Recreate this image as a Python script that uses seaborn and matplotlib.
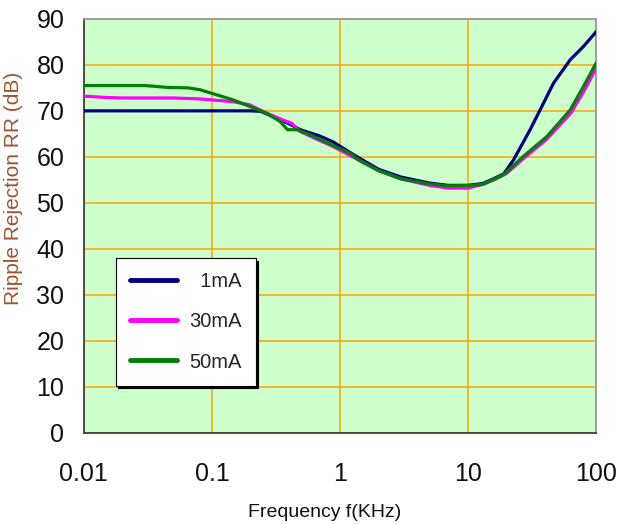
import matplotlib
matplotlib.use("Agg")
import matplotlib.pyplot as plt
import seaborn as sns
import pandas as pd

# data
freq_1ma = [0.01, 0.02, 0.05, 0.1, 0.2, 0.24, 0.32, 0.4, 0.49, 0.7, 0.89, 1.0, 1.4, 2, 3, 5, 7,
            10, 13, 16, 19, 22.6, 30.5, 36.5, 46.4, 62.7, 79.6, 100]
rr_1ma = [70, 70, 70, 70, 70, 69.9, 68.4, 67.2, 65.9, 64.5, 63.2, 62.3, 59.8, 57.3, 55.6, 54.3, 53.8,
          53.8, 54.2, 55.3, 56.3, 59.3, 65.9, 70.2, 76.0, 81.1, 84.0, 87.2]

freq_30ma = [0.01, 0.015, 0.02, 0.05, 0.08, 0.146, 0.198, 0.267, 0.36, 0.42, 0.49, 0.7, 0.89, 1.4,
             2, 3, 5, 7, 10, 13, 16, 20, 27, 41, 63, 80, 100]
rr_30ma = [73.2, 72.9, 72.8, 72.8, 72.6, 72.0, 71.3, 69.5, 68.0, 67.3, 65.5, 63.5, 62.2, 59.3,
           57.0, 55.2, 53.8, 53.2, 53.2, 54.0, 55.0, 56.4, 59.6, 63.8, 69.4, 74.2, 79.3]

freq_50ma = [0.01, 0.02, 0.03, 0.045, 0.065, 0.0805, 0.146, 0.267, 0.34, 0.39, 0.46, 0.58, 0.8,
             1.2, 1.4, 2, 3, 5, 7, 10.4, 13, 18.9, 27, 41.2, 62.7, 79.6, 100]
rr_50ma = [75.5, 75.5, 75.5, 75.1, 75.0, 74.6, 72.4, 69.5, 67.7, 65.9, 65.9, 64.8, 63.0,
           60.8, 59.3, 57.0, 55.2, 54.1, 53.7, 53.8, 54.0, 56.1, 60.1, 64.4, 70.2, 75.3, 80.4]

series_names = ["1mA", "30mA", "50mA"]
series_colors = ["#000080", "#ff00ff", "#008000"]
y_ticks = [0, 10, 20, 30, 40, 50, 60, 70, 80, 90]
x_ticks = [0.01, 0.1, 1, 10, 100]
x_tick_labels = ["0.01", "0.1", "1", "10", "100"]

df = pd.concat([
    pd.DataFrame({"f": freq_1ma, "rr": rr_1ma, "series": "1mA"}),
    pd.DataFrame({"f": freq_30ma, "rr": rr_30ma, "series": "30mA"}),
    pd.DataFrame({"f": freq_50ma, "rr": rr_50ma, "series": "50mA"}),
], ignore_index=True)

sns.set_style("white")
plt.rcParams["font.family"] = ["Liberation Sans", "DejaVu Sans"]

fig = plt.figure(figsize=(6.21, 5.24), dpi=100)
ax = fig.add_axes([0.135, 0.174, 0.825, 0.79])
ax.set_facecolor("#ccffcc")

palette = dict(zip(series_names, series_colors))
sns.lineplot(data=df, x="f", y="rr", hue="series", palette=palette, sort=False,
             estimator=None, linewidth=2.3, legend=False, ax=ax, zorder=3)

ax.set_xscale("log")
ax.set_xlim(0.01, 100)
ax.set_ylim(0, 90)
ax.set_xticks(x_ticks)
ax.set_xticklabels(x_tick_labels)
ax.set_yticks(y_ticks)
ax.minorticks_off()

ax.grid(True, color="#ffa500", linewidth=1.1, zorder=1)
ax.set_axisbelow(True)

ax.tick_params(axis="both", direction="in", length=6, width=1, color="#404040",
               labelsize=18, labelcolor="#111111")
ax.tick_params(axis="x", pad=21)
ax.tick_params(axis="y", pad=14)

for side in ["left", "bottom"]:
    ax.spines[side].set_color("#404040")
    ax.spines[side].set_linewidth(1.3)
for side in ["top", "right"]:
    ax.spines[side].set_color("#999999")
    ax.spines[side].set_linewidth(1.3)

ax.set_xlabel("Frequency f(KHz)", fontsize=14, color="#111111")
ax.xaxis.set_label_coords(0.47, -0.172)
ax.set_ylabel("Ripple Rejection RR (dB)", fontsize=15, color="#a0522d")
ax.yaxis.set_label_coords(-0.118, 0.59)

# legend labels right-aligned like the original
width = max(len(s) for s in series_names)
leg_labels = [" " * 2 * (width - len(s)) + s for s in series_names]
handles = [plt.Line2D([], [], color=c, linewidth=3.5, solid_capstyle="round")
           for c in series_colors]
leg = ax.legend(handles, leg_labels, loc="lower left", bbox_to_anchor=(0.062, 0.114),
                frameon=True, fancybox=False, shadow={"color": "black", "alpha": 1},
                edgecolor="black", framealpha=1, fontsize=14.5, handlelength=2.35,
                handletextpad=0.6, labelspacing=1.05, borderpad=0.7, borderaxespad=0)
leg.get_frame().set_linewidth(0.8)

fig.savefig("out.png", dpi=100)
